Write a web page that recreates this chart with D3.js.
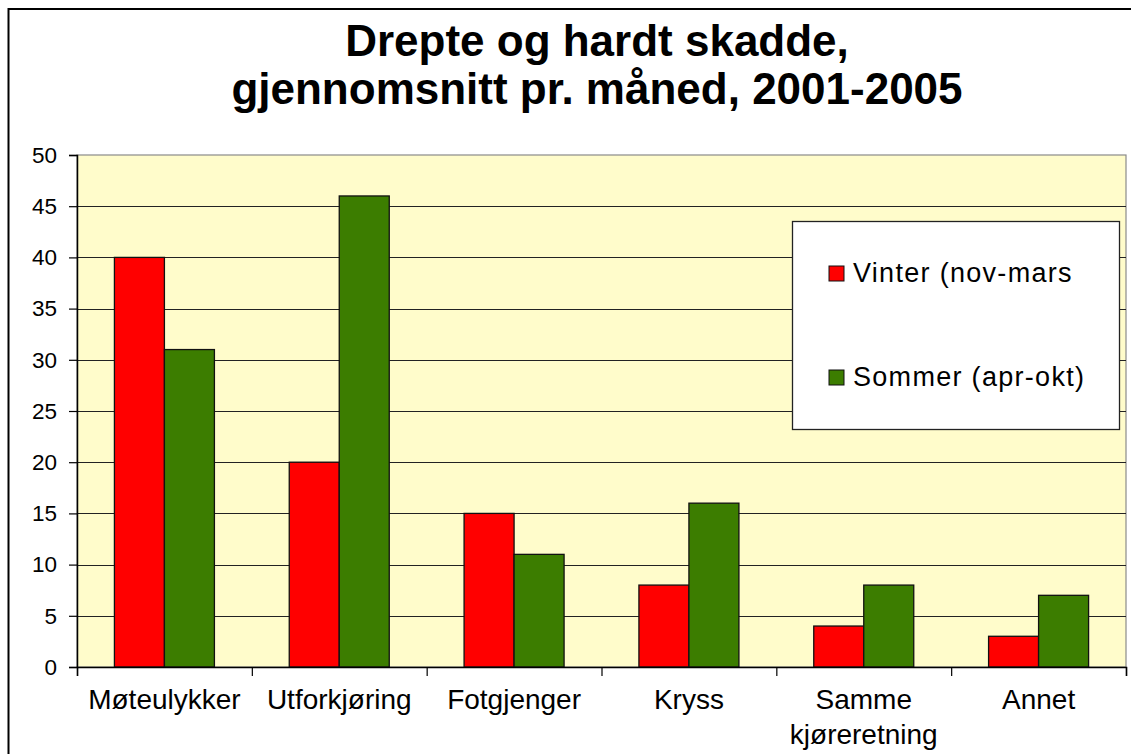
<!DOCTYPE html>
<html><head><meta charset="utf-8">
<script src="https://cdn.jsdelivr.net/npm/d3@7"></script>
<style>
html,body{margin:0;padding:0;background:#fff;}
svg{display:block;font-family:"Liberation Sans",Arial,sans-serif;}
</style></head>
<body>
<svg id="chart" width="1131" height="754"></svg>
<script>
const titleLines = ["Drepte og hardt skadde,", "gjennomsnitt pr. måned, 2001-2005"];
const categories = ["Møteulykker", "Utforkjøring", "Fotgjenger", "Kryss", "Samme kjøreretning", "Annet"];
const categoryLines = [["Møteulykker"], ["Utforkjøring"], ["Fotgjenger"], ["Kryss"], ["Samme", "kjøreretning"], ["Annet"]];
const seriesNames = ["Vinter (nov-mars", "Sommer (apr-okt)"];
const vinter = [40, 20, 15, 8, 4, 3];
const sommer = [31, 46, 11, 16, 8, 7];
const yTicks = [0, 5, 10, 15, 20, 25, 30, 35, 40, 45, 50];
const colors = ["#FF0000", "#3C7D00"];

const svg = d3.select("#chart");
const m = {left: 77, right: 1126, top: 155, bottom: 667};

// outer frame
svg.append("rect").attr("x", 8.5).attr("y", 9).attr("width", 1140).attr("height", 760)
  .attr("fill", "#fff").attr("stroke", "#000").attr("stroke-width", 2);

// title
svg.append("g").selectAll("text").data(titleLines).join("text")
  .attr("x", 597).attr("y", (d, i) => 56 + i * 48)
  .attr("text-anchor", "middle").attr("font-size", 44).attr("font-weight", "bold")
  .attr("fill", "#000").text(d => d);

const x0 = d3.scaleBand().domain(categories).range([m.left, m.right]);
const x1 = d3.scaleBand().domain(seriesNames).range([0, 100]);
const y = d3.scaleLinear().domain([0, 50]).range([m.bottom, m.top]);

// plot background
svg.append("rect").attr("x", m.left).attr("y", m.top)
  .attr("width", m.right - m.left).attr("height", m.bottom - m.top)
  .attr("fill", "#FFFCCB").attr("stroke", "#8a8a8a").attr("stroke-width", 1.2);

// gridlines
svg.append("g").selectAll("line").data(yTicks.filter(t => t > 0 && t < 50)).join("line")
  .attr("x1", m.left).attr("x2", m.right)
  .attr("y1", d => Math.round(y(d)) + 0.5).attr("y2", d => Math.round(y(d)) + 0.5)
  .attr("stroke", "#222").attr("stroke-width", 1.2);

// bars
const data = categories.map((c, i) => ({cat: c, vals: [vinter[i], sommer[i]]}));
const groups = svg.append("g").selectAll("g").data(data).join("g")
  .attr("transform", d => `translate(${x0(d.cat) + (x0.bandwidth() - 100) / 2},0)`);
groups.selectAll("rect").data(d => d.vals.map((v, j) => ({s: seriesNames[j], v, j}))).join("rect")
  .attr("x", d => x1(d.s)).attr("width", x1.bandwidth())
  .attr("y", d => y(d.v)).attr("height", d => y(0) - y(d.v))
  .attr("fill", d => colors[d.j]).attr("stroke", "#111").attr("stroke-width", 1.3);

// y axis
const yAxis = d3.axisLeft(y).tickValues(yTicks).tickSize(8).tickPadding(12);
const ya = svg.append("g").attr("transform", `translate(${m.left},0)`).call(yAxis);
ya.select(".domain").attr("stroke", "#000").attr("stroke-width", 1.5);
ya.selectAll(".tick line").attr("stroke", "#000").attr("stroke-width", 1.2);
ya.selectAll(".tick text").attr("font-size", 22.5).attr("fill", "#000")
  .attr("font-family", "Liberation Sans, Arial, sans-serif");

// x axis (ticks at band boundaries)
const xi = d3.scaleLinear().domain([0, categories.length]).range([m.left, m.right]);
const xAxis = d3.axisBottom(xi).tickValues(d3.range(0, categories.length + 1)).tickSize(9).tickFormat("");
const xa = svg.append("g").attr("transform", `translate(0,${m.bottom})`).call(xAxis);
xa.select(".domain").attr("stroke", "#000").attr("stroke-width", 1.5);
xa.selectAll(".tick line").attr("stroke", "#000").attr("stroke-width", 1.2);

// category labels
const lab = svg.append("g").selectAll("text").data(categories).join("text")
  .attr("x", d => x0(d) + x0.bandwidth() / 2).attr("y", 709)
  .attr("text-anchor", "middle").attr("font-size", 28).attr("fill", "#000");
lab.selectAll("tspan").data((d, i) => categoryLines[i]).join("tspan")
  .attr("x", function() { return this.parentNode.getAttribute("x"); })
  .attr("dy", (d, i) => i === 0 ? 0 : 35).text(d => d);

// legend
const lg = svg.append("g");
lg.append("rect").attr("x", 792.5).attr("y", 221.5).attr("width", 327).attr("height", 208)
  .attr("fill", "#fff").attr("stroke", "#222").attr("stroke-width", 1.3);
const items = lg.selectAll("g").data(seriesNames).join("g")
  .attr("transform", (d, i) => `translate(829,${266 + i * 104})`);
items.append("rect").attr("width", 15).attr("height", 15)
  .attr("fill", (d, i) => colors[i]).attr("stroke", "#111").attr("stroke-width", 1);
items.append("text").attr("x", 24).attr("y", 16).attr("font-size", 27).attr("fill", "#000")
  .attr("letter-spacing", 1.3).text(d => d);
</script>
</body></html>
